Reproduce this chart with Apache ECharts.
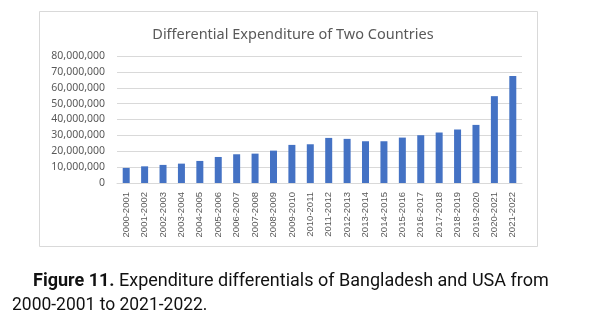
<!DOCTYPE html>
<html><head><meta charset="utf-8">
<script src="https://cdn.jsdelivr.net/npm/echarts@6/dist/echarts.min.js"></script>
<style>html,body{margin:0;padding:0;background:#fff}#c{width:597px;height:323px}</style>
</head><body><div id="c"></div>
<script>
const categories = ["2000-2001","2001-2002","2002-2003","2003-2004","2004-2005","2005-2006","2006-2007","2007-2008","2008-2009","2009-2010","2010-2011","2011-2012","2012-2013","2013-2014","2014-2015","2015-2016","2016-2017","2017-2018","2018-2019","2019-2020","2020-2021","2021-2022"];
const values = [9500000,10500000,11400000,12200000,13900000,16400000,18100000,18500000,20400000,24000000,24400000,28400000,27800000,26300000,26300000,28600000,30100000,31800000,33700000,36600000,54700000,67400000];
const yTicks = [0,10000000,20000000,30000000,40000000,50000000,60000000,70000000,80000000];

const capFont = 'Roboto';
const chart = echarts.init(document.getElementById('c'), null, {renderer:'canvas'});
chart.setOption({
  animation:false,
  backgroundColor:'#fff',
  title:{text:'Differential Expenditure of Two Countries', left:288, top:22, textAlign:'center',
    textStyle:{fontFamily:'Noto Sans', fontSize:14.5, fontWeight:'normal', color:'#595959'}},
  grid:{left:117, right:75, top:56, bottom:140},
  xAxis:{type:'category', data:categories,
    axisLine:{lineStyle:{color:'#d9d9d9'}}, axisTick:{show:false},
    axisLabel:{rotate:90, interval:0, fontFamily:'Liberation Sans', fontSize:9.5, color:'#595959', margin:9}},
  yAxis:{type:'value', min:yTicks[0], max:yTicks[yTicks.length-1], interval:10000000,
    splitLine:{lineStyle:{color:'#d9d9d9'}}, axisLine:{show:false}, axisTick:{show:false},
    axisLabel:{fontFamily:'Noto Sans', fontSize:10.5, color:'#595959', margin:12,
      formatter:v=>v.toLocaleString('en-US')}},
  series:[{type:'bar', data:values, barWidth:7, itemStyle:{color:'#4472C4'}}],
  graphic:[
    {type:'rect', shape:{x:39.5,y:11.5,width:498,height:235}, style:{fill:null, stroke:'#d9d9d9', lineWidth:1}, silent:true},
    {type:'text', x:33, y:272, scaleX:1.0, style:{rich:{b:{fontWeight:'bold', fontFamily:capFont, fontSize:18, fill:'#111'}, n:{fontFamily:capFont, fontSize:18, fill:'#111'}}, text:'{b|Figure 11.}{n| Expenditure differentials of Bangladesh and USA from}'}},
    {type:'text', x:12, y:296, scaleX:0.97, style:{text:'2000-2001 to 2021-2022.', fontFamily:capFont, fontSize:18, fill:'#111'}}
  ]
});
</script></body></html>
